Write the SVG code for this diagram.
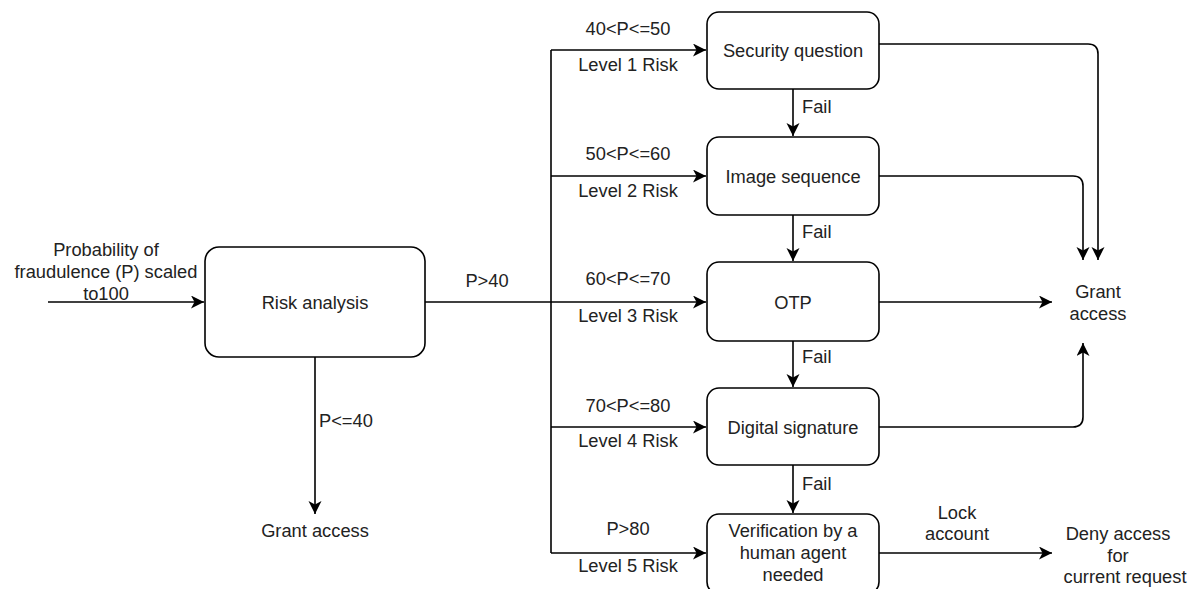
<svg xmlns="http://www.w3.org/2000/svg" width="1189" height="589" viewBox="0 0 1189 589">
<style>
.box{fill:#fff;stroke:#000;stroke-width:1.6}
.ln{fill:none;stroke:#000;stroke-width:1.6}
text{font-family:"Liberation Sans",Arial,sans-serif;font-size:18.3px;fill:#222}
.c{text-anchor:middle}
</style>
<defs>
<marker id="ah" markerUnits="userSpaceOnUse" markerWidth="16" markerHeight="14" refX="13" refY="6.5" orient="auto">
<path d="M0,0 L13,6.5 L0,13 L3.5,6.5 Z" fill="#000"/>
</marker>
</defs>
<rect width="1189" height="589" fill="#fff"/>
<g id="connectors">
<path class="ln" d="M48,302 H204" marker-end="url(#ah)"/>
<path class="ln" d="M425,302 H551"/>
<path class="ln" d="M315,357 V514" marker-end="url(#ah)"/>
<path class="ln" d="M551,50 V553"/>
<path class="ln" d="M551,50 H706" marker-end="url(#ah)"/>
<path class="ln" d="M551,176 H706" marker-end="url(#ah)"/>
<path class="ln" d="M551,302 H706" marker-end="url(#ah)"/>
<path class="ln" d="M551,427 H706" marker-end="url(#ah)"/>
<path class="ln" d="M551,553 H706" marker-end="url(#ah)"/>
<path class="ln" d="M793,89 V136" marker-end="url(#ah)"/>
<path class="ln" d="M793,215 V261" marker-end="url(#ah)"/>
<path class="ln" d="M793,341 V387" marker-end="url(#ah)"/>
<path class="ln" d="M793,465 V513" marker-end="url(#ah)"/>
<path class="ln" d="M879,44 H1088 Q1098,44 1098,54 V260" marker-end="url(#ah)"/>
<path class="ln" d="M879,176 H1073 Q1083,176 1083,186 V260" marker-end="url(#ah)"/>
<path class="ln" d="M879,302 H1052" marker-end="url(#ah)"/>
<path class="ln" d="M879,427 H1073 Q1083,427 1083,417 V343" marker-end="url(#ah)"/>
<path class="ln" d="M879,553 H1052" marker-end="url(#ah)"/>
<text class="c" x="487" y="287">P&gt;40</text>
<text x="319" y="427">P&lt;=40</text>
<text x="802" y="113">Fail</text>
<text x="802" y="238">Fail</text>
<text x="802" y="363">Fail</text>
<text x="802" y="490">Fail</text>
<text class="c" x="628" y="35">40&lt;P&lt;=50</text>
<text class="c" x="628" y="71">Level 1 Risk</text>
<text class="c" x="628" y="160">50&lt;P&lt;=60</text>
<text class="c" x="628" y="197">Level 2 Risk</text>
<text class="c" x="628" y="285">60&lt;P&lt;=70</text>
<text class="c" x="628" y="322">Level 3 Risk</text>
<text class="c" x="628" y="412">70&lt;P&lt;=80</text>
<text class="c" x="628" y="447">Level 4 Risk</text>
<text class="c" x="628" y="535">P&gt;80</text>
<text class="c" x="628" y="572">Level 5 Risk</text>
<text class="c" x="957" y="519">Lock</text>
<text class="c" x="957" y="540">account</text>
</g>
<g id="input">
<text class="c" x="106" y="256">Probability of</text>
<text class="c" x="106" y="278">fraudulence (P) scaled</text>
<text class="c" x="106" y="300">to100</text>
</g>
<g id="risk-analysis">
<rect class="box" x="205" y="247" width="220" height="110" rx="14"/>
<text class="c" x="315" y="309">Risk analysis</text>
</g>
<g id="grant-access-low">
<text class="c" x="315" y="537">Grant access</text>
</g>
<g id="security-question">
<rect class="box" x="707" y="12" width="172" height="77" rx="12"/>
<text class="c" x="793" y="57">Security question</text>
</g>
<g id="image-sequence">
<rect class="box" x="707" y="137" width="172" height="78" rx="12"/>
<text class="c" x="793" y="183">Image sequence</text>
</g>
<g id="otp">
<rect class="box" x="707" y="262" width="172" height="79" rx="12"/>
<text class="c" x="793" y="309">OTP</text>
</g>
<g id="digital-signature">
<rect class="box" x="707" y="388" width="172" height="77" rx="12"/>
<text class="c" x="793" y="434">Digital signature</text>
</g>
<g id="human-verification">
<rect class="box" x="707" y="514" width="172" height="80" rx="12"/>
<text class="c" x="793" y="537">Verification by a</text>
<text class="c" x="793" y="559">human agent</text>
<text class="c" x="793" y="581">needed</text>
</g>
<g id="grant-access">
<text class="c" x="1098" y="298">Grant</text>
<text class="c" x="1098" y="320">access</text>
</g>
<g id="deny-access">
<text class="c" x="1118" y="540">Deny access</text>
<text class="c" x="1118" y="562">for</text>
<text class="c" x="1125" y="583">current request</text>
</g>
</svg>
